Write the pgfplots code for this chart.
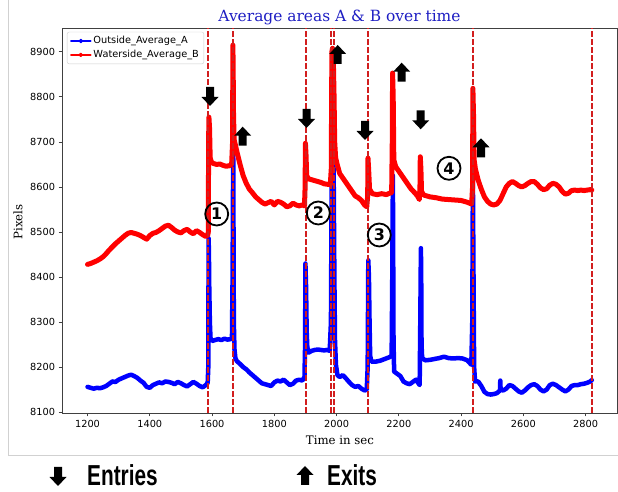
\documentclass[border=0pt]{standalone}
\usepackage{pgfplots}
\pgfplotsset{compat=1.18}
\usepackage{graphicx}
\usepackage{fontspec}
\setmainfont{DejaVu Sans}
\newfontfamily\seriffont{DejaVu Serif}
\newfontfamily\libsans{Liberation Sans}
\definecolor{dashred}{RGB}{210,30,30}
\definecolor{ttl}{RGB}{30,30,195}
\definecolor{pblue}{RGB}{0,0,255}
\definecolor{pred}{RGB}{255,0,0}
\newcommand{\darr}[2]{\fill[black] (#1,#2) -- ++(-8.5,9) -- ++(4.5,0) -- ++(0,10) -- ++(8,0) -- ++(0,-10) -- ++(4.5,0) -- cycle;}
\newcommand{\uarr}[2]{\fill[black] (#1,#2) -- ++(-8.5,-9) -- ++(4.5,0) -- ++(0,-10) -- ++(8,0) -- ++(0,10) -- ++(4.5,0) -- cycle;}
\newcommand{\cnum}[3]{\node[circle, draw=black, line width=1.8bp, minimum size=23bp, inner sep=0pt, font=\fontsize{16}{16}\selectfont\bfseries] at (#1,#2) {#3};}
\begin{document}
\begin{tikzpicture}[x=1bp,y=1bp]
\useasboundingbox (0,0) rectangle (618,492);
\draw[black!18, line width=0.8bp] (8,492) -- (8,37) -- (618,37);
\begin{axis}[
  at={(62bp,79bp)}, anchor=south west,
  scale only axis, width=555bp, height=385bp,
  xmin=1118, xmax=2901, ymin=8098, ymax=8953,
  xtick={1200,1400,...,2800}, ytick={8100,8200,...,8900},
  tick align=outside, tick pos=left, major tick length=3.5bp,
  axis line style={black!75, line width=0.8bp},
  tick style={black!75, line width=0.8bp},
  ticklabel style={font=\fontsize{9.8}{11}\selectfont},
  /pgf/number format/assume math mode=true,
  /pgf/number format/set thousands separator={},
  legend style={at={(0.009,0.99)}, anchor=north west, draw=black!20, rounded corners=2bp,
    font=\fontsize{9.8}{11.5}\selectfont, inner xsep=3bp, inner ysep=2.5bp, row sep=1bp},
  legend cell align=left,
  legend image code/.code={\draw[#1, line width=1.3bp, mark=*, mark size=1.6bp, mark repeat=2, mark phase=2] plot coordinates {(0bp,0bp) (10bp,0bp) (20bp,0bp)};},
  unbounded coords=jump,
]
\addplot[color=pblue, line width=4.5bp, line join=round, line cap=round] coordinates {
(1200,8156) (1210,8154) (1220,8152) (1230,8154) (1240,8153) (1250,8155) (1260,8158) (1270,8163)
(1280,8168) (1290,8167) (1300,8172) (1310,8175) (1320,8178) (1330,8181) (1340,8183) (1350,8180)
(1360,8176) (1370,8170) (1380,8165) (1390,8156) (1400,8154) (1410,8160) (1420,8163) (1430,8166)
(1440,8164) (1450,8168) (1460,8167) (1470,8165) (1480,8162) (1490,8167) (1500,8164) (1510,8160)
(1520,8157) (1530,8162) (1540,8167) (1550,8163) (1560,8158) (1570,8155) (1580,8160) (1586,8165)
(1588,8200) (1589,8486) (1590,8450) (1591,8380) (1593,8300) (1595,8265) (1600,8258) (1610,8260)
(1620,8262) (1630,8260) (1640,8263) (1650,8261) (1660,8262) (1664,8265) (1666,8400) (1668,8690)
(1669,8500) (1670,8300) (1672,8240) (1675,8220) (1680,8213) (1690,8207) (1700,8200) (1710,8195)
(1720,8188) (1730,8182) (1740,8176) (1750,8170) (1760,8164) (1770,8162) (1780,8160) (1790,8158)
(1800,8166) (1810,8170) (1820,8168) (1830,8172) (1840,8166) (1850,8160) (1860,8163) (1870,8170)
(1880,8172) (1890,8170) (1897,8178) (1899,8250) (1900,8430) (1902,8380) (1904,8280) (1906,8245)
(1910,8232) (1920,8236) (1930,8238) (1940,8239) (1950,8238) (1960,8237) (1970,8238) (1978,8236)
(1982,8300) (1985,8700) (1988,8760) (1991,8600) (1993,8400) (1995,8260) (1998,8205) (2003,8182)
(2010,8178) (2020,8182) (2030,8175) (2040,8167) (2050,8160) (2060,8156) (2070,8158) (2080,8152)
(2090,8148) (2097,8150) (2100,8200) (2102,8437) (2104,8400) (2106,8300) (2108,8225) (2112,8212)
(2125,8212) (2140,8214) (2155,8218) (2170,8222) (2177,8225) (2179,8400) (2181,8625) (2182,8450)
(2183,8260) (2185,8190) (2195,8185) (2205,8180) (2215,8168) (2225,8164) (2235,8162) (2245,8167)
(2255,8172) (2262,8165) (2267,8160) (2269,8300) (2271,8464) (2272,8400) (2273,8250) (2275,8220)
(2285,8215) (2300,8216) (2315,8218) (2330,8220) (2345,8223) (2360,8220) (2375,8219) (2390,8220)
(2405,8219) (2420,8215) (2433,8205) (2436,8300) (2438,8620) (2440,8400) (2442,8200) (2445,8168)
(2455,8168) (2465,8158) (2475,8145) (2485,8140) (2495,8139) (2505,8140) (2515,8142) (2525,8148)
(2526,8170) (2527,8150) (2535,8148) (2545,8152) (2555,8160) (2565,8158) (2575,8152) (2585,8146)
(2595,8143) (2605,8148) (2615,8155) (2625,8160) (2635,8162) (2645,8158) (2655,8150) (2665,8146)
(2675,8150) (2685,8160) (2695,8163) (2705,8160) (2715,8155) (2725,8150) (2735,8146) (2745,8150)
(2755,8158) (2765,8160) (2775,8160) (2785,8162) (2795,8163) (2805,8165) (2815,8168) (2820,8171)
};
\addlegendentry{Outside\_Average\_A}
\addplot[color=pred, line width=5bp, line join=round, line cap=round] coordinates {
(1200,8428) (1210,8430) (1220,8433) (1230,8436) (1240,8440) (1250,8445) (1260,8452) (1270,8460)
(1280,8467) (1290,8474) (1300,8480) (1310,8486) (1320,8492) (1330,8497) (1340,8499) (1350,8497)
(1360,8495) (1370,8492) (1380,8488) (1390,8484) (1400,8492) (1410,8497) (1420,8499) (1430,8503)
(1440,8508) (1450,8513) (1460,8515) (1470,8510) (1480,8504) (1490,8500) (1500,8498) (1510,8503)
(1520,8506) (1530,8500) (1540,8496) (1550,8503) (1560,8499) (1570,8494) (1580,8490) (1586,8493)
(1588,8500) (1589,8700) (1590,8755) (1592,8730) (1594,8665) (1598,8655) (1605,8652) (1615,8650)
(1625,8651) (1635,8648) (1645,8646) (1655,8647) (1663,8650) (1666,8700) (1667,8915) (1668,8850)
(1669,8760) (1671,8705) (1676,8690) (1682,8672) (1690,8650) (1700,8625) (1710,8608) (1720,8595)
(1730,8587) (1740,8578) (1750,8572) (1760,8566) (1770,8562) (1780,8565) (1790,8568) (1800,8560)
(1810,8568) (1820,8566) (1830,8562) (1840,8556) (1850,8558) (1860,8564) (1870,8560) (1880,8558)
(1890,8560) (1897,8558) (1899,8600) (1900,8697) (1902,8670) (1904,8625) (1910,8618) (1920,8616)
(1930,8614) (1940,8612) (1950,8610) (1960,8607) (1970,8606) (1980,8605) (1983,8640) (1985,8900)
(1987,8908) (1990,8870) (1992,8800) (1994,8700) (1997,8665) (2002,8650) (2010,8630) (2020,8620)
(2030,8610) (2040,8600) (2050,8590) (2060,8580) (2070,8576) (2080,8570) (2090,8560) (2097,8556)
(2100,8580) (2101,8664) (2103,8640) (2106,8595) (2115,8585) (2130,8583) (2145,8585) (2160,8583)
(2170,8586) (2177,8587) (2179,8700) (2180,8853) (2182,8800) (2184,8660) (2190,8645) (2200,8635)
(2210,8625) (2220,8615) (2230,8605) (2240,8595) (2250,8588) (2260,8580) (2266,8572) (2268,8600)
(2269,8667) (2271,8640) (2273,8590) (2280,8582) (2300,8578) (2320,8576) (2340,8573) (2360,8572)
(2380,8571) (2400,8570) (2420,8566) (2434,8562) (2437,8600) (2438,8819) (2440,8760) (2442,8660)
(2446,8640) (2455,8615) (2465,8595) (2475,8578) (2485,8568) (2495,8562) (2505,8560) (2515,8562)
(2525,8570) (2535,8585) (2545,8600) (2555,8608) (2565,8612) (2575,8608) (2585,8603) (2595,8600)
(2605,8603) (2615,8608) (2625,8612) (2635,8612) (2645,8606) (2655,8598) (2665,8594) (2675,8596)
(2685,8604) (2695,8608) (2705,8606) (2715,8600) (2725,8590) (2735,8584) (2745,8586) (2755,8592)
(2765,8593) (2775,8592) (2785,8593) (2795,8592) (2805,8593) (2815,8594) (2820,8593)
};
\addlegendentry{Waterside\_Average\_B}
\addplot[draw=dashred, line width=1.7bp, dash pattern=on 5.5bp off 2.5bp, forget plot] coordinates {
(1588,8098) (1588,8953) (1588,nan)
(1668,8098) (1668,8953) (1668,nan)
(1901,8098) (1901,8953) (1901,nan)
(1983,8098) (1983,8953) (1983,nan)
(1992.5,8098) (1992.5,8953) (1992.5,nan)
(2100,8098) (2100,8953) (2100,nan)
(2438,8098) (2438,8953) (2438,nan)
(2820,8098) (2820,8953)
};
\end{axis}
% title and labels
\node[font=\seriffont\fontsize{15.5}{16}\selectfont, text=ttl] at (339.5,475) {Average areas A \& B over time};
\node[font=\seriffont\fontsize{11.8}{12}\selectfont] at (340,52) {Time in sec};
\node[font=\seriffont\fontsize{11.8}{12}\selectfont, rotate=90] at (18,270) {Pixels};
% annotation arrows
\darr{210}{386}
\uarr{242.7}{365.3}
\darr{306.5}{364}
\uarr{337.7}{447}
\darr{365}{352}
\uarr{401.7}{429.3}
\darr{420.7}{362.7}
\uarr{481}{353.7}
% circled numbers
\cnum{216.7}{278}{1}
\cnum{318.3}{279}{2}
\cnum{379.3}{257}{3}
\cnum{449}{323.7}{4}
% bottom legend
\darr{58}{6}
\node[anchor=base west, inner sep=0pt] at (87,6) {\scalebox{0.72}[1]{\libsans\bfseries\fontsize{29}{29}\selectfont Entries}};
\uarr{305}{26}
\node[anchor=base west, inner sep=0pt] at (327,6) {\scalebox{0.72}[1]{\libsans\bfseries\fontsize{29}{29}\selectfont Exits}};
\end{tikzpicture}
\end{document}
